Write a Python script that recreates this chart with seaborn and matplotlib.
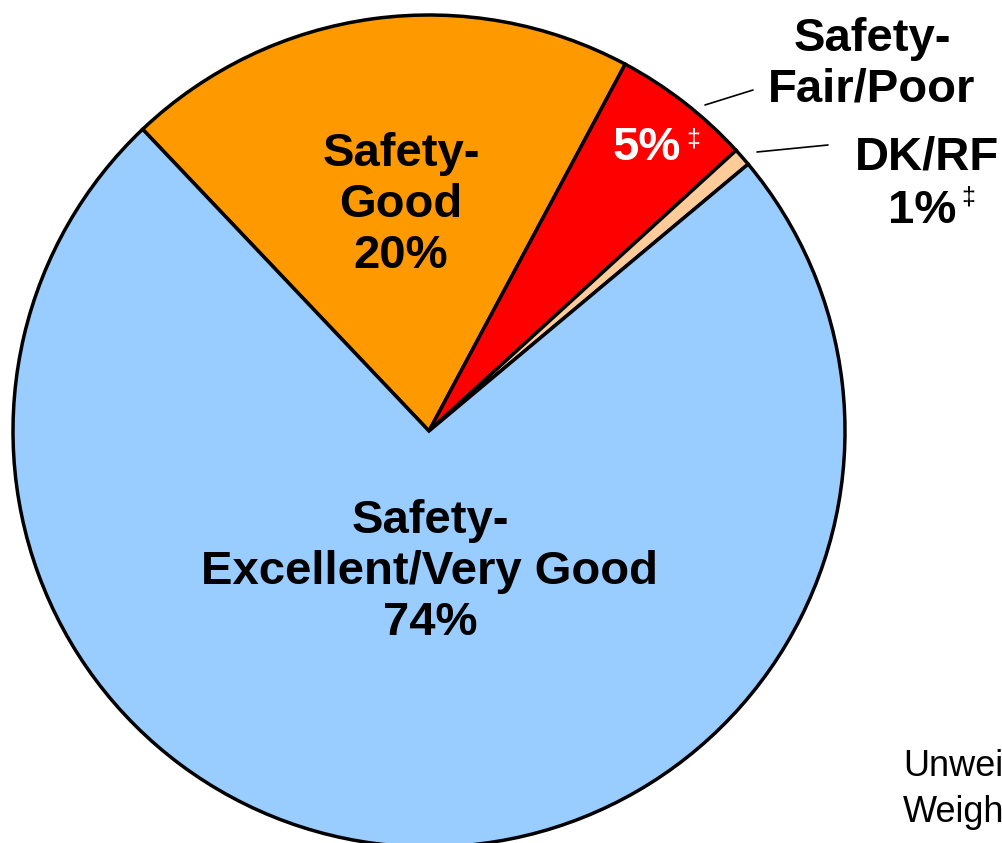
import matplotlib
matplotlib.use("Agg")
import matplotlib.pyplot as plt
import seaborn as sns

sns.set_theme(style="white")
plt.rcParams["font.family"] = ["Liberation Sans", "DejaVu Sans"]

# slice data, clockwise from the upper-left edge of the orange slice
categories = ["Safety-Good", "Safety-Fair/Poor", "DK/RF", "Safety-Excellent/Very Good"]
shares = [19.9, 5.4, 0.7, 74.0]
share_labels = ["20%", "5%", "1%", "74%"]
colors = ["#FF9900", "#FF0000", "#FFCC99", "#99CCFF"]

W, H = 1002, 843
fig = plt.figure(figsize=(W / 100, H / 100), dpi=100)
ax = fig.add_axes([0, 0, 1, 1])

ax.pie(shares, colors=colors, startangle=133.5, counterclock=False,
       center=(429, H - 431), radius=416,
       wedgeprops=dict(edgecolor="black", linewidth=2.5))
ax.set_xlim(0, W)
ax.set_ylim(0, H)
ax.set_aspect("equal")
ax.axis("off")


def y(py):
    return H - py


bold = dict(fontsize=34, fontweight="bold", ha="center", va="center",
            linespacing=1.2)

ax.text(401, y(205), f"Safety-\nGood\n{share_labels[0]}", color="black", **bold)
ax.text(430, y(572), f"Safety-\nExcellent/Very Good\n{share_labels[3]}",
        color="black", **bold)
ax.text(647, y(148), share_labels[1], color="white", **bold)
ax.text(686, y(139), "\u2021", color="white", fontsize=18, ha="left", va="center")

ax.text(872, y(64), "Safety-\nFair/Poor", color="black", **bold)
ax.text(927, y(157), "DK/RF", color="black", **bold)
ax.text(922, y(211), share_labels[2], color="black", **bold)
ax.text(961, y(198), "\u2021", color="black", fontsize=18, ha="left", va="center")

# leader lines
ax.plot([705, 753], [y(105), y(90)], color="black", linewidth=1.2)
ax.plot([757, 828], [y(152), y(145)], color="black", linewidth=1.2)

# sample-size note, running off the right edge as in the source
ax.text(903, y(767), "Unweighted", fontsize=26, color="black", ha="left", va="center")
ax.text(903, y(813), "Weighted", fontsize=26, color="black", ha="left", va="center")

fig.savefig("out.png", dpi=100)
